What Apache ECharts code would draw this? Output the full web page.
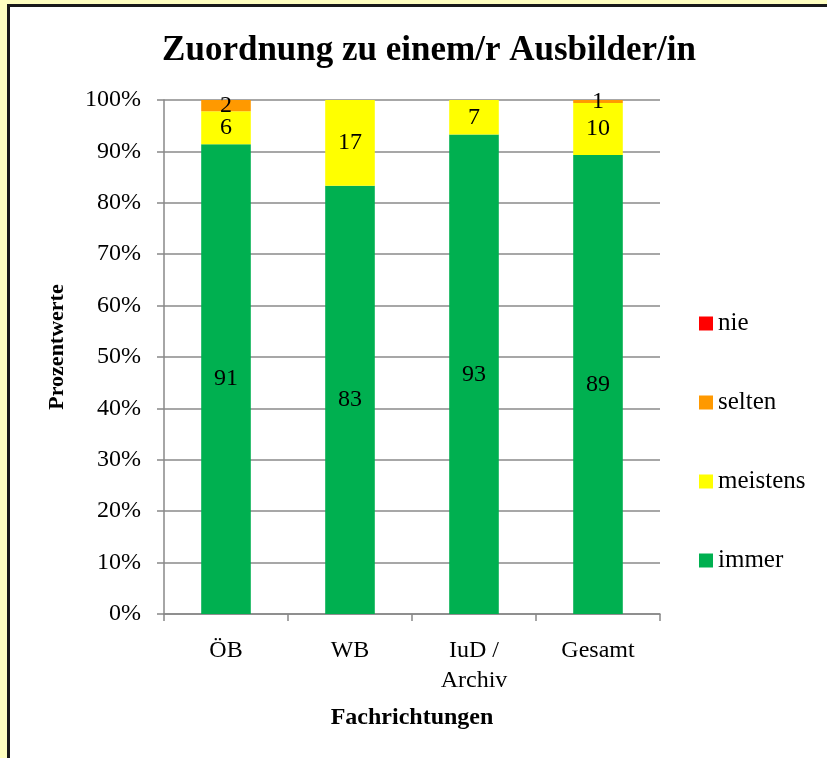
<!DOCTYPE html>
<html>
<head>
<meta charset="utf-8">
<script src="https://cdn.jsdelivr.net/npm/echarts@6/dist/echarts.min.js"></script>
<style>
html,body{margin:0;padding:0;background:#FFFFC0;width:827px;height:758px;overflow:hidden;}
#frame{position:absolute;left:7px;top:4px;width:900px;height:900px;background:#fff;border-left:3px solid #1a1a1a;border-top:3px solid #1a1a1a;}
#chart{position:absolute;left:0;top:0;width:827px;height:758px;}
</style>
</head>
<body>
<div id="frame"></div>
<div id="chart"></div>
<script>
const categories = ['ÖB', 'WB', 'IuD /\nArchiv', 'Gesamt'];
const immer = [91.4, 83.3, 93.3, 89.3];
const meistens = [6.4, 16.7, 6.7, 10.1];
const selten = [2.2, 0, 0, 0.6];
const nie = [0, 0, 0, 0];
const yTicks = [0, 10, 20, 30, 40, 50, 60, 70, 80, 90, 100];

const FONT = '"Liberation Serif", "Times New Roman", serif';
const chart = echarts.init(document.getElementById('chart'), null, {renderer: 'canvas'});

function lbl() {
  return {
    show: true, position: 'inside', color: '#000', fontFamily: FONT, fontSize: 24,
    formatter: p => p.value > 0 ? Math.round(p.value) : ''
  };
}
function series(name, data, color) {
  return {name, type: 'bar', stack: 'a', data, barCategoryGap: '60%',
    itemStyle: {color}, label: lbl(), emphasis: {disabled: true}};
}

chart.setOption({
  backgroundColor: 'transparent',
  animation: false,
  title: {
    text: 'Zuordnung zu einem/r Ausbilder/in', left: 424, top: 28, textAlign: 'center',
    textStyle: {fontFamily: FONT, fontWeight: 'bold', fontSize: 35, color: '#000'}
  },
  legend: {
    orient: 'vertical', left: 694, top: 306, itemGap: 54,
    itemWidth: 14, itemHeight: 14, icon: 'rect',
    data: ['nie', 'selten', 'meistens', 'immer'],
    textStyle: {fontFamily: FONT, fontSize: 25, color: '#000'}
  },
  grid: {left: 164, right: 167, top: 100, bottom: 144, containLabel: false},
  xAxis: {
    type: 'category', data: categories,
    name: 'Fachrichtungen', nameLocation: 'middle', nameGap: 92,
    nameTextStyle: {fontFamily: FONT, fontWeight: 'bold', fontSize: 24, color: '#000'},
    axisLine: {lineStyle: {color: '#888', width: 1.5}},
    axisTick: {show: true, length: 7, lineStyle: {color: '#888', width: 1.5}},
    axisLabel: {fontFamily: FONT, fontSize: 24, color: '#000', margin: 22, lineHeight: 30}
  },
  yAxis: {
    type: 'value', min: 0, max: 100, interval: 10,
    name: 'Prozentwerte', nameLocation: 'middle', nameGap: 96, nameRotate: 90,
    nameTextStyle: {fontFamily: FONT, fontWeight: 'bold', fontSize: 22, color: '#000', padding: [0, 0, 0, 20]},
    axisLine: {show: true, lineStyle: {color: '#888', width: 1.5}},
    axisTick: {show: true, length: 7, lineStyle: {color: '#888', width: 1.5}},
    splitLine: {show: true, lineStyle: {color: '#8a8a8a', width: 1.5}},
    axisLabel: {fontFamily: FONT, fontSize: 24, color: '#000', margin: 23,
      formatter: v => yTicks.includes(v) ? v + '%' : ''}
  },
  series: [
    series('immer', immer, '#00B050'),
    series('meistens', meistens, '#FFFF00'),
    series('selten', selten, '#FF9900'),
    series('nie', nie, '#FF0000')
  ]
});
</script>
</body>
</html>
